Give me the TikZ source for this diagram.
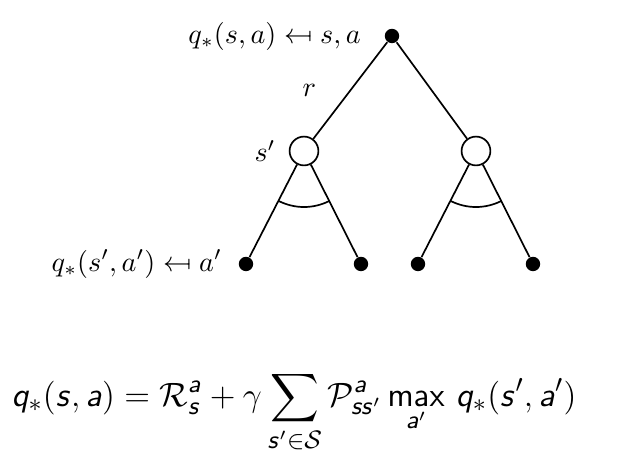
\documentclass[tikz,border=0pt]{standalone}
\usepackage{amsmath}
\usepackage{stmaryrd}
\usetikzlibrary{positioning}

% sans slanted letters for the equation
\DeclareMathAlphabet{\mathsl}{OT1}{cmss}{m}{sl}
\newcommand{\vq}{\mathsl{q}}
\newcommand{\vs}{\mathsl{s}}
\newcommand{\va}{\mathsl{a}}
\newcommand{\lp}{\mathopen{\mathsf{(}}}
\newcommand{\rp}{\mathclose{\mathsf{)}}}

\tikzset{
  action/.style={circle, fill=black, inner sep=0pt, minimum size=0.18cm},
  state/.style={circle, draw=black, fill=white, semithick, inner sep=0pt, minimum size=0.36cm},
  edge/.style={semithick}
}

\begin{document}
\begin{tikzpicture}[x=0.0125cm, y=-0.0125cm]
\useasboundingbox (0,0) rectangle (644,461);

% root: state-action pair
\node[action] (sa) at (392,36) {};
\node[left=0.17cm of sa] (sa-lbl) {$q_*(s,a) \mapsfrom s,a$};

% successor states
\node[state] (s1) at (304,151) {};
\node[state] (s2) at (476,151) {};
\node[left=0.04cm of s1] (s1-lbl) {$s'$};

% next actions
\node[action] (a11) at (246,264) {};
\node[action] (a12) at (361,264) {};
\node[action] (a21) at (418,264) {};
\node[action] (a22) at (533,264) {};
\node[left=0.08cm of a11] (a11-lbl) {$q_*(s',a') \mapsfrom a'$};

% edges
\draw[edge] (sa) -- (s1) node[midway, left=0.3cm] (r-lbl) {$r$};
\draw[edge] (sa) -- (s2);
\draw[edge] (s1) -- (a11);
\draw[edge] (s1) -- (a12);
\draw[edge] (s2) -- (a21);
\draw[edge] (s2) -- (a22);

% max arcs
\draw[edge] (s1.center) ++(243:0.7cm) arc[start angle=243, end angle=297, radius=0.7cm];
\draw[edge] (s2.center) ++(243:0.7cm) arc[start angle=243, end angle=297, radius=0.7cm];

% Bellman optimality equation
\node (bellman) at (294,412) {\fontsize{12.4}{15}\selectfont
  $\displaystyle \vq_*\lp\vs,\va\rp = \mathcal{R}^{\va}_{\vs} + \gamma \sum_{\vs'\in\mathcal{S}} \mathcal{P}^{\va}_{\vs\vs'} \operatorname*{\mathsf{max}}_{\va'}\, \vq_*\lp\vs',\va'\rp$};
\end{tikzpicture}
\end{document}
